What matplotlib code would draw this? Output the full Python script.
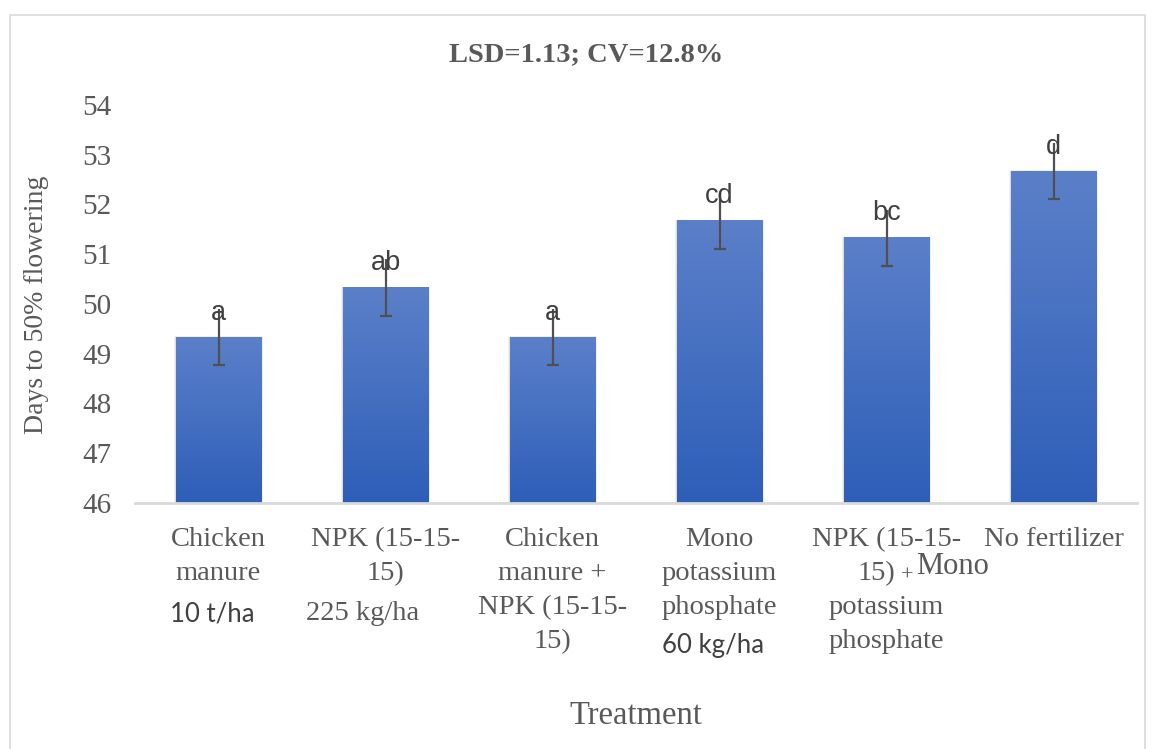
import matplotlib
matplotlib.use("Agg")
import matplotlib.pyplot as plt
import matplotlib.transforms as mtransforms
from matplotlib.patches import Rectangle
import numpy as np

# ---- data ----
categories = ["Chicken manure", "NPK (15-15-15)", "Chicken manure + NPK (15-15-15)",
              "Mono potassium phosphate", "NPK (15-15-15) + Mono potassium phosphate",
              "No fertilizer"]
values = [49.33, 50.33, 49.33, 51.67, 51.33, 52.67]
errors = [0.565, 0.565, 0.565, 0.565, 0.565, 0.565]
letters = ["a", "ab", "a", "cd", "bc", "d"]
yticks = [46, 47, 48, 49, 50, 51, 52, 53, 54]
title = "LSD=1.13; CV=12.8%"
ylabel = "Days to 50% flowering"
xlabel = "Treatment"

W, H = 1155, 749
fig = plt.figure(figsize=(W / 100, H / 100), dpi=100)
ax = fig.add_axes([135 / W, 1 - 503 / H, (1137 - 135) / W, (503 - 105) / H])

gray = "#595959"
top_c = np.array([0x5b, 0x80, 0xc9]) / 255
bot_c = np.array([0x2e, 0x5e, 0xb8]) / 255
grad = np.linspace(0, 1, 256)[:, None]
img = top_c[None, None, :] * (1 - grad[:, :, None]) + bot_c[None, None, :] * grad[:, :, None]

x = np.arange(len(values))
bw = 0.51
ymin, ymax = yticks[0], yticks[-1]
for xi, v in zip(x, values):
    # soft shadow
    for k, a in [(0.018, 0.06), (0.010, 0.08)]:
        ax.add_patch(Rectangle((xi - bw / 2 - k * 0.6, ymin), bw + 2 * k * 0.6, v - ymin + k * 1.2,
                               facecolor="black", alpha=a, edgecolor="none", zorder=1))
    ax.imshow(img, extent=(xi - bw / 2, xi + bw / 2, ymin, v), aspect="auto",
              zorder=2, interpolation="bilinear")

eb = ax.errorbar(x, values, yerr=errors, fmt="none", ecolor="#505050",
                 elinewidth=1.6, capsize=4.5, capthick=1.6, zorder=3)
caps = eb[1]
if len(caps) > 1:
    caps[1].set_visible(False)

for xi, v, e, t in zip(x, values, errors, letters):
    ax.text(xi, v + e - 0.21, t, ha="center", va="baseline", fontsize=19.5,
            family="Liberation Sans", color="#404040", zorder=4)

ax.set_xlim(-0.5, len(values) - 0.5)
ax.set_ylim(ymin, ymax)
ax.set_yticks(yticks)
ax.set_yticklabels([str(t) for t in yticks], fontsize=21, family="Liberation Serif", color=gray)
ax.tick_params(axis="y", length=0, pad=17)
ax.set_xticks([])
for s in ["top", "right", "left"]:
    ax.spines[s].set_visible(False)
ax.spines["bottom"].set_color("#d9d9d9")
ax.spines["bottom"].set_linewidth(2)

# category labels (multi-line, positioned below axis)
tr = mtransforms.blended_transform_factory(ax.transData, fig.transFigure)
def fy(py):
    return 1 - py / H

serif = dict(family="Liberation Serif", fontsize=20.5, color=gray, va="center", transform=tr)
sans = dict(family="Lato", fontsize=18.5, color="#404040", va="center", transform=tr)
rows = [540, 574, 608, 642]

label_lines = [
    ["Chicken", "manure"],
    ["NPK (15-15-", "15)"],
    ["Chicken", "manure +", "NPK (15-15-", "15)"],
    ["Mono", "potassium", "phosphate"],
    ["NPK (15-15-"],
    ["No fertilizer"],
]
for i, lines in enumerate(label_lines):
    for j, ln in enumerate(lines):
        ax.text(i, fy(rows[j]), ln, ha="center", **serif)

# extra rates / odd layout pieces
ax.text(-0.04, fy(rows[2] + 6), "10 t/ha", ha="center", **sans)
ax.text(0.865, fy(rows[2] + 6), "225 kg/ha", ha="center", **serif)
ax.text(2.96, fy(rows[3] + 4), "60 kg/ha", ha="center", **sans)
ax.text(4.051, fy(rows[1]), "15)", ha="right", **serif)
ax.text(4.123, fy(rows[1] + 2), "+", ha="center", family="Liberation Serif", fontsize=16,
        color=gray, va="center", transform=tr)
ax.text(4.177, fy(rows[1] - 7), "Mono", ha="left", family="Liberation Serif", fontsize=22,
        color=gray, va="center", transform=tr)
ax.text(3.65, fy(rows[2]), "potassium", ha="left", **serif)
ax.text(3.65, fy(rows[3]), "phosphate", ha="left", **serif)

# titles
fig.text(586 / W, fy(55), title, ha="center", va="center", fontsize=20.5,
         family="Liberation Serif", weight="bold", color=gray)
fig.text(37 / W, fy(305), ylabel, ha="center", va="center", rotation=90, fontsize=20,
         family="Liberation Serif", color=gray)
fig.text(636 / W, fy(716), xlabel, ha="center", va="center", fontsize=23.5,
         family="Liberation Serif", color=gray)

# outer chart frame
fig.patches.append(Rectangle((9.5 / W, -0.01), (1145 - 9.5) / W, 1.01 - 15 / H + 0.0,
                             transform=fig.transFigure, fill=False, edgecolor="#d9d9d9",
                             linewidth=1.2))

fig.savefig("out.png", dpi=100)
